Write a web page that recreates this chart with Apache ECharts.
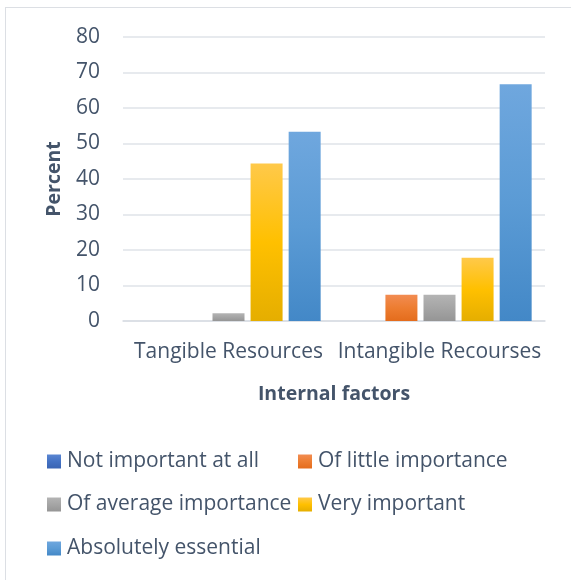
<!DOCTYPE html>
<html>
<head>
<meta charset="utf-8">
<script src="https://cdn.jsdelivr.net/npm/echarts@6/dist/echarts.min.js"></script>
<style>
  html, body { margin: 0; padding: 0; background: #fff; }
  #frame {
    position: absolute; left: 5px; top: 7px; width: 600px; height: 600px;
    border: 1.5px solid #dcdfe4; box-sizing: border-box;
  }
  #chart { position: absolute; left: 0; top: 0; width: 571px; height: 580px; }
</style>
</head>
<body>
<div id="frame"></div>
<div id="chart"></div>
<script>
const categories = ['Tangible Resources', 'Intangible Recourses'];
const seriesNames = ['Not important at all', 'Of little importance', 'Of average importance', 'Very important', 'Absolutely essential'];
const notImportant = [0, 0];
const littleImportance = [0, 7.4];
const averageImportance = [2.2, 7.4];
const veryImportant = [44.4, 17.8];
const absolutelyEssential = [53.3, 66.7];
const yTicks = [0, 10, 20, 30, 40, 50, 60, 70, 80];

const values = [notImportant, littleImportance, averageImportance, veryImportant, absolutelyEssential];

// top / middle / bottom of each bar gradient
const palette = [
  ['#5a86d2', '#4472c4', '#3a64b3'],
  ['#f28c52', '#ed7d31', '#e46c1c'],
  ['#b4b4b4', '#a5a5a5', '#959595'],
  ['#ffc94a', '#ffc000', '#e5ae00'],
  ['#6fa7de', '#5b9bd5', '#4388c7'],
];

const grad = (c) => new echarts.graphic.LinearGradient(0, 0, 0, 1, [
  { offset: 0, color: c[0] },
  { offset: 0.5, color: c[1] },
  { offset: 1, color: c[2] },
]);

const textColor = '#44546a';
const font = '"Open Sans", Lato, sans-serif';

// legend placement: two columns, three rows
const legendSpots = [
  { left: 47, top: 451 },
  { left: 298, top: 451 },
  { left: 47, top: 494 },
  { left: 298, top: 494 },
  { left: 47, top: 538 },
];

const chart = echarts.init(document.getElementById('chart'), null, { renderer: 'canvas' });

chart.setOption({
  animation: false,
  textStyle: { fontFamily: font },
  legend: seriesNames.map((name, i) => ({
    data: [name],
    left: legendSpots[i].left,
    top: legendSpots[i].top,
    icon: 'rect',
    itemWidth: 14,
    itemHeight: 14,
    padding: 0,
    selectedMode: false,
    textStyle: { color: textColor, fontSize: 21, fontFamily: font, padding: [0, 0, 0, 1] },
  })),
  grid: { left: 123, right: 26, top: 37, bottom: 259, containLabel: false },
  xAxis: {
    type: 'category',
    data: categories,
    name: 'Internal factors',
    nameLocation: 'middle',
    nameGap: 63,
    nameTextStyle: { color: textColor, fontSize: 19.5, fontWeight: 'bold', fontFamily: font },
    axisTick: { show: false },
    axisLine: { lineStyle: { color: '#d9dde3', width: 1.5 } },
    axisLabel: { color: textColor, fontSize: 21, margin: 21, interval: 0, fontFamily: font },
  },
  yAxis: {
    type: 'value',
    min: yTicks[0],
    max: yTicks[yTicks.length - 1],
    interval: 10,
    name: 'Percent',
    nameLocation: 'middle',
    nameGap: 59,
    nameTextStyle: { color: textColor, fontSize: 19.5, fontWeight: 'bold', fontFamily: font },
    axisLine: { show: false },
    axisTick: { show: false },
    axisLabel: { color: textColor, fontSize: 21, margin: 23, fontFamily: font },
    splitLine: { lineStyle: { color: '#dfe3e9', width: 1.5 } },
  },
  series: seriesNames.map((name, i) => ({
    name,
    type: 'bar',
    data: values[i],
    barWidth: 32,
    barGap: '19%',
    itemStyle: { color: grad(palette[i]) },
  })),
});
</script>
</body>
</html>
